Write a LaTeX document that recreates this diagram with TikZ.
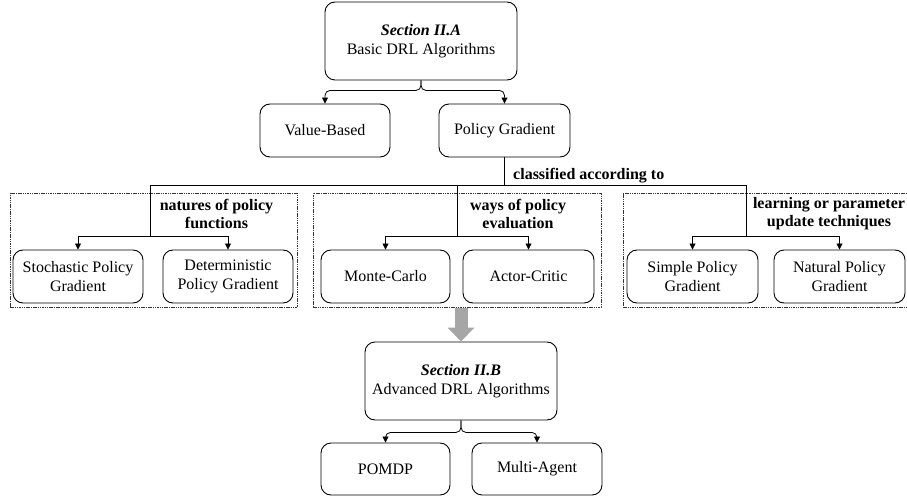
\documentclass[tikz,border=0pt]{standalone}
\usepackage{fontspec}
\setmainfont{Liberation Serif}
\usetikzlibrary{arrows.meta}
\begin{document}
\begin{tikzpicture}[x=1pt,y=-1pt,
  box/.style={draw, rounded corners=10pt, line width=0.9pt, align=center,
    font=\fontsize{16}{19}\selectfont, inner sep=0pt},
  grp/.style={draw=black!80, densely dashed, dash pattern=on 1.5pt off 0.8pt, line width=0.7pt, inner sep=0pt},
  lab/.style={align=center, font=\fontsize{16}{18}\selectfont\bfseries, inner sep=0pt},
  ln/.style={line width=0.8pt},
  arr/.style={line width=0.8pt, -{Triangle[length=6pt,width=6pt]}},
  brace/.style={line width=0.8pt, rounded corners=5pt, -{Triangle[length=6pt,width=6pt]}},
  bigarr/.style={line width=13pt, draw=black!35, -{Triangle[length=14pt,width=26pt]}}
]
\useasboundingbox (0,0) rectangle (907,497);

% top
\node[box, minimum width=192pt, minimum height=78pt] (secA) at (421,41) {\textbf{\textit{Section II.A}}\\Basic DRL Algorithms};
\node[box, minimum width=130pt, minimum height=53pt] (vb) at (325,130.5) {Value-Based};
\node[box, minimum width=131pt, minimum height=53pt] (pg) at (504.5,130.5) {Policy Gradient};

\draw[brace] (secA.south) -- ++(0,10) -| (vb.north);
\draw[brace] (secA.south) -- ++(0,10) -| (pg.north);

% groups
\node[grp, minimum width=287pt, minimum height=114pt] (g1) at (153.5,250) {};
\node[grp, minimum width=288pt, minimum height=114pt] (g2) at (457,250) {};
\node[grp, minimum width=284pt, minimum height=114pt] (g3) at (765,250) {};

\node[lab] (l1) at (216.5,214) {natures of policy\\functions};
\node[lab] (l2) at (518,214) {ways of policy\\evaluation};
\node[lab] (l3) at (829,214) {learning or parameter\\update techniques};

\node[box, minimum width=130pt, minimum height=53pt] (spg) at (78,276.5) {Stochastic Policy\\Gradient};
\node[box, minimum width=130pt, minimum height=53pt] (dpg) at (228,276.5) {Deterministic\\Policy Gradient};
\node[box, minimum width=129pt, minimum height=53pt] (mc) at (385.5,276.5) {Monte-Carlo};
\node[box, minimum width=131pt, minimum height=53pt] (ac) at (528.5,276.5) {Actor-Critic};
\node[box, minimum width=131pt, minimum height=53pt] (sim) at (692.5,276.5) {Simple Policy\\Gradient};
\node[box, minimum width=131pt, minimum height=53pt] (nat) at (839.5,276.5) {Natural Policy\\Gradient};

% classification tree
\coordinate (hl) at (150,185);
\coordinate (hm) at (457,185);
\coordinate (hr) at (746,185);
\coordinate (j1) at (150,236);
\coordinate (j2) at (457,236);
\coordinate (j3) at (746,236);
\draw[ln] (pg.south) -- (pg.south |- hl);
\draw[ln] (hl) -- (hr);
\node[lab, anchor=west] (cl) at (513,176) {classified according to};

\draw[ln] (hl) -- (j1);
\draw[arr] (j1) -| (spg.north);
\draw[arr] (j1) -| (dpg.north);
\draw[ln] (hm) -- (j2);
\draw[arr] (j2) -| (mc.north);
\draw[arr] (j2) -| (ac.north);
\draw[ln] (hr) -- (j3);
\draw[arr] (j3) -| (sim.north);
\draw[arr] (j3) -| (nat.north);

% bottom
\node[box, minimum width=192pt, minimum height=78pt] (secB) at (461,381) {\textbf{\textit{Section II.B}}\\Advanced DRL Algorithms};
\node[box, minimum width=129pt, minimum height=52pt] (pomdp) at (385.5,469) {POMDP};
\node[box, minimum width=130pt, minimum height=52pt] (ma) at (537,469) {Multi-Agent};

\draw[bigarr] (g2.south -| secB.north) ++(0,1) -- (secB.north);

\draw[brace] (secB.south) -- ++(0,12) -| (pomdp.north);
\draw[brace] (secB.south) -- ++(0,12) -| (ma.north);
\end{tikzpicture}
\end{document}
